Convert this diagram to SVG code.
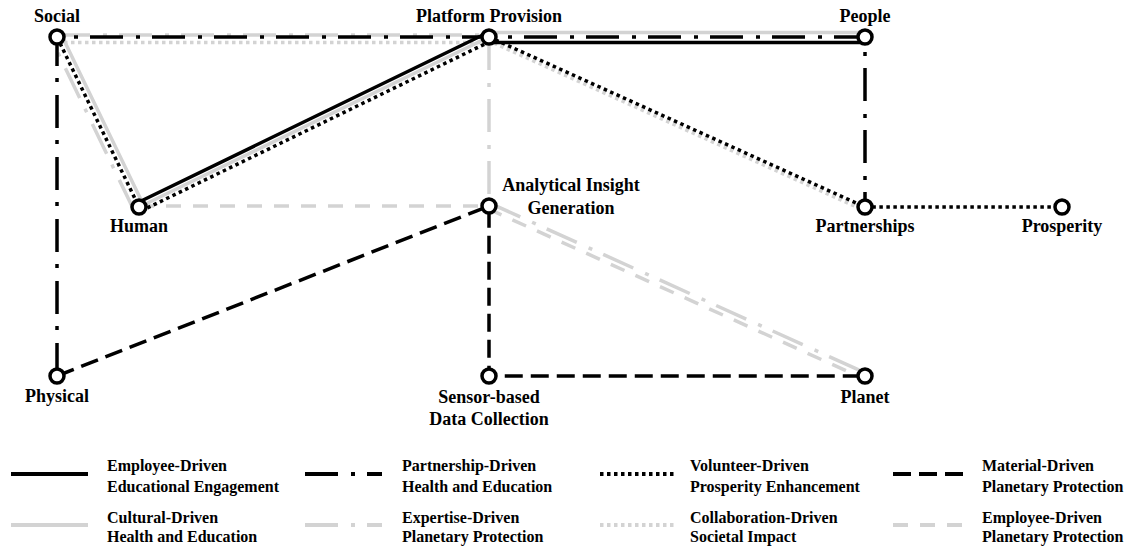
<svg xmlns="http://www.w3.org/2000/svg" width="1131" height="546" viewBox="0 0 1131 546">
<style>
.bg{fill:#fff}
.node circle{fill:#fff;stroke:#000;stroke-width:3.5}
.lbl{font-family:"Liberation Serif","Times New Roman",serif;font-weight:bold;font-size:18px;fill:#000;text-anchor:middle}
.leg{font-family:"Liberation Serif","Times New Roman",serif;font-weight:bold;font-size:16px;fill:#000}
.c{fill:none;stroke-width:3.5;stroke-linejoin:round}
.l{fill:none;stroke-width:4}
.k{stroke:#000}
.g{stroke:#d3d3d3}
.dd{stroke-dasharray:33 13 4 12}
.dot{stroke-dasharray:3.5 3.5}
.dash{stroke-dasharray:18 8}
.gdash{stroke-dasharray:15 12}
</style>
<rect class="bg" x="0" y="0" width="1131" height="546"/>
<g id="connectors">
  <path id="cultural-health-education" class="c g" d="M61.5 35 L143.5 205 L489 37 M489 32.5 L865 32.5"/>
  <path id="expertise-planetary" class="c g dd" d="M133.6 209.6 L51.6 39.6 M57 35 L489 35 M489 37 L489 206 M490.2 203.3 L866.2 373.3"/>
  <path id="collaboration-societal" class="c g dot" d="M57 42.5 L489 42.5 M487.6 40.2 L863.6 210.2"/>
  <path id="employee-planetary" class="c g gdash" d="M139 206 L489 206 M487.8 208.7 L863.8 378.7"/>
  <path id="employee-educational" class="c k" d="M137 203 L487 33 M489 42.5 L865 42.5"/>
  <path id="partnership-health-education" class="c k dd" d="M57 376 L57 37 L489 37 L865 37 L865 207"/>
  <path id="volunteer-prosperity" class="c k dot" d="M57 37 L139 207 M141 211 L491 41 M489 37 L865 207 L1062 207"/>
  <path id="material-planetary" class="c k dash" d="M57 376 L489 206 L489 376 L865 376"/>
</g>
<g id="node-social" class="node"><circle cx="57" cy="37" r="7"/><text class="lbl" x="57" y="22">Social</text></g>
<g id="node-platform" class="node"><circle cx="489" cy="37" r="7"/><text class="lbl" x="489" y="22">Platform Provision</text></g>
<g id="node-people" class="node"><circle cx="865" cy="37" r="7"/><text class="lbl" x="865" y="22">People</text></g>
<g id="node-human" class="node"><circle cx="139" cy="207" r="7"/><text class="lbl" x="139" y="232">Human</text></g>
<g id="node-analytical" class="node"><circle cx="489" cy="206" r="7"/><text class="lbl" x="571" y="191">Analytical Insight</text><text class="lbl" x="571" y="214">Generation</text></g>
<g id="node-partnerships" class="node"><circle cx="865" cy="207" r="7"/><text class="lbl" x="865" y="232">Partnerships</text></g>
<g id="node-prosperity" class="node"><circle cx="1062" cy="207" r="7"/><text class="lbl" x="1062" y="232">Prosperity</text></g>
<g id="node-physical" class="node"><circle cx="57" cy="376" r="7"/><text class="lbl" x="57" y="402">Physical</text></g>
<g id="node-sensor" class="node"><circle cx="489" cy="376" r="7"/><text class="lbl" x="489" y="403">Sensor-based</text><text class="lbl" x="489" y="425">Data Collection</text></g>
<g id="node-planet" class="node"><circle cx="865" cy="376" r="7"/><text class="lbl" x="865" y="403">Planet</text></g>
<g id="legend">
  <line class="l k" x1="11" y1="474" x2="88" y2="474"/>
  <text class="leg" x="107" y="471">Employee-Driven</text><text class="leg" x="107" y="492">Educational Engagement</text>
  <line class="l k dd" x1="305" y1="474" x2="382" y2="474"/>
  <text class="leg" x="402" y="471">Partnership-Driven</text><text class="leg" x="402" y="492">Health and Education</text>
  <line class="l k dot" x1="600" y1="474" x2="676" y2="474"/>
  <text class="leg" x="690" y="471">Volunteer-Driven</text><text class="leg" x="690" y="492">Prosperity Enhancement</text>
  <line class="l k dash" x1="893" y1="474" x2="967" y2="474"/>
  <text class="leg" x="982" y="471">Material-Driven</text><text class="leg" x="982" y="492">Planetary Protection</text>
  <line class="l g" x1="11" y1="525" x2="88" y2="525"/>
  <text class="leg" x="107" y="523">Cultural-Driven</text><text class="leg" x="107" y="542">Health and Education</text>
  <line class="l g dd" x1="305" y1="525" x2="382" y2="525"/>
  <text class="leg" x="402" y="523">Expertise-Driven</text><text class="leg" x="402" y="542">Planetary Protection</text>
  <line class="l g dot" x1="600" y1="525" x2="676" y2="525"/>
  <text class="leg" x="690" y="523">Collaboration-Driven</text><text class="leg" x="690" y="542">Societal Impact</text>
  <line class="l g gdash" x1="893" y1="525" x2="967" y2="525"/>
  <text class="leg" x="982" y="523">Employee-Driven</text><text class="leg" x="982" y="542">Planetary Protection</text>
</g>
</svg>
